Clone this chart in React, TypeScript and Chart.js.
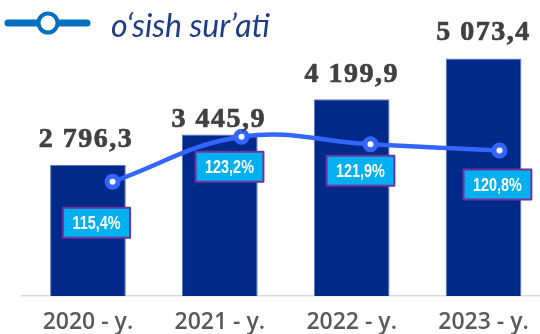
import React, { useEffect, useRef } from 'react';
import { Chart, registerables } from 'chart.js';

Chart.register(...registerables);

// Years, production volume and year-on-year growth rate
const years = ['2020 - y.', '2021 - y.', '2022 - y.', '2023 - y.'];
const volume = [2796.3, 3445.9, 4199.9, 5073.4];
const growthRate = [115.4, 123.2, 121.9, 120.8];
const legendLabel = 'o‘sish sur’ati';

const BAR_COLOR = '#01298a';
const LINE_COLOR = '#3366ff';

const fmtVolume = (v: number) => {
  const [int, dec] = v.toFixed(1).split('.');
  return int.replace(/\B(?=(\d{3})+(?!\d))/g, ' ') + ',' + dec;
};
const fmtRate = (v: number) => v.toFixed(1).replace('.', ',') + '%';

// Value labels above bars, boxed rate labels under the line points, and the legend
const annotations = {
  id: 'annotations',
  afterDatasetsDraw(chart: any, _args: any, opts: any) {
    const ctx: CanvasRenderingContext2D = chart.ctx;
    const bars = chart.getDatasetMeta(0).data;
    const pts = chart.getDatasetMeta(1).data;

    ctx.save();
    ctx.font = 'bold 28px "Liberation Serif", serif';
    (ctx as any).letterSpacing = '1.5px';
    ctx.fillStyle = '#404040';
    ctx.strokeStyle = '#404040';
    ctx.lineWidth = 0.7;
    ctx.lineJoin = 'round';
    ctx.textAlign = 'center';
    ctx.textBaseline = 'alphabetic';
    bars.forEach((bar: any, i: number) => {
      const x = bar.x + opts.valueDx[i];
      const y = bar.y - opts.valueGap[i];
      ctx.fillText(fmtVolume(volume[i]), x, y);
      ctx.strokeText(fmtVolume(volume[i]), x, y);
    });
    (ctx as any).letterSpacing = '0px';

    // condensed bold face for the rate boxes
    ctx.font = 'bold 18px "Liberation Sans", Arial, sans-serif';
    ctx.textBaseline = 'middle';
    const squeeze = 0.8;
    pts.forEach((pt: any, i: number) => {
      const text = fmtRate(growthRate[i]);
      const w = ctx.measureText(text).width * squeeze + 19;
      const h = 30;
      const cx = pt.x + opts.rateDx[i];
      const cy = pt.y + opts.rateDy[i];
      ctx.fillStyle = '#00b0f0';
      ctx.fillRect(cx - w / 2, cy - h / 2, w, h);
      ctx.strokeStyle = '#7030a0';
      ctx.lineWidth = 2;
      ctx.strokeRect(cx - w / 2, cy - h / 2, w, h);
      ctx.save();
      ctx.translate(cx, cy + 1);
      ctx.scale(squeeze, 1);
      ctx.fillStyle = '#ffffff';
      ctx.fillText(text, 0, 0);
      ctx.restore();
    });

    // legend: line with ring marker and italic caption
    ctx.strokeStyle = '#0070c0';
    ctx.lineCap = 'round';
    ctx.lineWidth = 7;
    ctx.beginPath();
    ctx.moveTo(8, 23);
    ctx.lineTo(87, 23);
    ctx.stroke();
    ctx.beginPath();
    ctx.arc(48, 23, 9.5, 0, Math.PI * 2);
    ctx.fillStyle = '#ffffff';
    ctx.fill();
    ctx.lineWidth = 4;
    ctx.stroke();
    ctx.font = 'italic 32px Lato, sans-serif';
    ctx.fillStyle = '#1f3c88';
    ctx.textAlign = 'left';
    ctx.textBaseline = 'alphabetic';
    ctx.fillText(legendLabel, 111, 37);
    ctx.restore();
  },
};

export default function App() {
  const ref = useRef<HTMLCanvasElement>(null);

  useEffect(() => {
    if (!ref.current) return;
    const chart = new Chart(ref.current, {
      type: 'bar',
      data: {
        labels: years,
        datasets: [
          {
            type: 'bar',
            data: volume,
            backgroundColor: BAR_COLOR,
            borderColor: '#5a78c0',
            borderWidth: 1,
            barPercentage: 0.574,
            categoryPercentage: 1,
            grouped: false,
            order: 2,
            xAxisID: 'x',
            yAxisID: 'y',
          } as any,
          {
            type: 'line',
            data: growthRate.map((v, i) => ({ x: i, y: v })),
            borderColor: LINE_COLOR,
            borderWidth: 4.5,
            tension: 0.4,
            pointRadius: 5.5,
            pointBorderWidth: 5,
            pointBackgroundColor: '#ffffff',
            pointBorderColor: LINE_COLOR,
            order: 1,
            xAxisID: 'x2',
            yAxisID: 'y2',
          } as any,
        ],
      },
      options: {
        responsive: false,
        animation: false,
        // the canvas is wider than the visible frame; the plot runs past its right edge
        layout: { padding: { left: 22, right: 8, top: 15, bottom: 0 } },
        plugins: {
          legend: { display: false },
          tooltip: { enabled: false },
          annotations: {
            valueGap: [18, 8, 17.5, 18],
            valueDx: [-2, -1, 0, 0],
            rateDx: [-16, -12, -10, -2],
            rateDy: [41, 30, 26.5, 34],
          },
        } as any,
        scales: {
          x: {
            offset: true,
            grid: { display: false, drawTicks: false },
            border: { display: true, color: '#d9d9d9', width: 1.5 },
            ticks: {
              padding: 13,
              color: '#595959',
              font: { family: '"Open Sans", sans-serif', size: 23, weight: 600 },
            },
            afterFit: (scale: any) => {
              scale.height = 38;
              scale.paddingLeft = 0;
              scale.paddingRight = 0;
            },
          },
          x2: { type: 'linear', display: false, offset: false, min: -0.702, max: 3.388 },
          y: { display: false, min: 0, max: 6000 },
          y2: { display: false, min: 95.6, max: 144.3 },
        },
      } as any,
      plugins: [annotations],
    });
    return () => chart.destroy();
  }, []);

  return (
    <div
      style={{
        position: 'absolute',
        left: 0,
        top: 0,
        width: 540,
        height: 334,
        overflow: 'hidden',
        background: '#fff',
      }}
    >
      <canvas ref={ref} width={560} height={334} style={{ display: 'block' }} />
    </div>
  );
}
